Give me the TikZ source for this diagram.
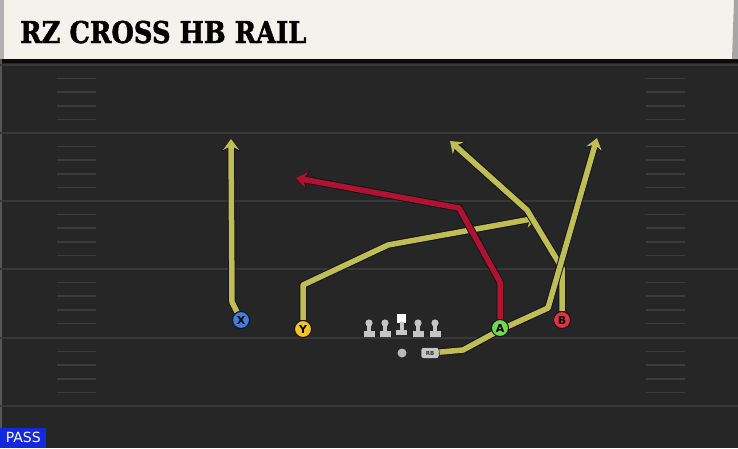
\documentclass[tikz,border=0pt]{standalone}
\usepackage{fontspec}
\setsansfont{DejaVu Sans}
\newfontfamily\slabfont[BoldFeatures={FakeBold=1.6}]{DejaVu Serif}
\usetikzlibrary{arrows.meta}

\definecolor{turf}{HTML}{262626}
\definecolor{yard}{HTML}{383838}
\definecolor{hash}{HTML}{3C3C3C}
\definecolor{paper}{HTML}{F4F2EC}
\definecolor{edge}{HTML}{141420}
\definecolor{olive}{HTML}{C0BD52}
\definecolor{crimson}{HTML}{B0122F}
\definecolor{xblue}{HTML}{3D7FD8}
\definecolor{yyellow}{HTML}{F2C524}
\definecolor{agreen}{HTML}{72D84C}
\definecolor{bred}{HTML}{E2343E}
\definecolor{passblue}{HTML}{1428E0}
\definecolor{lineman}{HTML}{C6C6C6}

\pgfdeclarelayer{field}
\pgfdeclarelayer{routes}
\pgfsetlayers{field,routes,main}

\begin{document}
\begin{tikzpicture}[x=1pt,y=-1pt,
  player/.style={circle, draw=edge, line width=1pt, minimum size=17pt, inner sep=0pt,
    text=black, font=\sffamily\bfseries\fontsize{11}{11}\selectfont},
  route/.style={line width=5.5pt, line join=round, -{Stealth[length=11pt,width=16pt,inset=4pt]},
    preaction={draw=edge, line width=7.5pt, -{Stealth[length=12.5pt,width=18.5pt,inset=4.5pt]}}},
  yardline/.style={draw=yard, line width=2.5pt},
  hashmark/.style={draw=hash, line width=1.6pt}]
\useasboundingbox (0,0) rectangle (738,448);

\begin{pgfonlayer}{field}
\fill[turf] (0,0) rectangle (738,448);
\fill[black!70!turf] (0,59) rectangle (738,63);
\fill[white!22!turf] (0,59) rectangle (2,448);
\foreach \y in {65,133,201,269,338,406}
  \draw[yardline] (0,\y) -- (738,\y);
\foreach \y in {65,133,201,269,338}
  \foreach \k in {1,...,4} {
    \draw[hashmark] (57,\y+\k*13.6) -- (96,\y+\k*13.6);
    \draw[hashmark] (646,\y+\k*13.6) -- (685,\y+\k*13.6);
  }
\fill[paper] (0,0) rectangle (734,59);
\fill[gray!70] (734,0) -- (738,0) -- (738,59) -- (732,59) -- cycle;
\fill[gray!60] (0,0) rectangle (4,59);
\end{pgfonlayer}

\node[anchor=base west, inner sep=0pt] (title) at (20,43)
  {\scalebox{0.86}[1]{\slabfont\bfseries\fontsize{30}{30}\selectfont RZ CROSS HB RAIL}};

\node[player, fill=xblue] (x) at (241,320) {X};
\node[player, fill=yyellow] (y) at (303,329) {Y};
\node[player, fill=agreen] (a) at (500,328) {A};
\node[player, fill=bred] (b) at (562,320) {B};

\foreach \p in {369,385,418,435} {
  \fill[lineman] (\p,323) circle (3.6pt);
  \fill[lineman] (\p-2,323) rectangle (\p+2,333);
  \fill[lineman] (\p-5.5,331) rectangle (\p+5.5,336.5);
}
\fill[white] (397,314) rectangle (406,322.5);
\fill[lineman] (399.5,322) rectangle (403.5,331);
\fill[lineman] (396,329.5) rectangle (407,334.5);

\node[circle, fill=gray!55, inner sep=0pt, minimum size=9pt] (qb) at (402,353) {};
\node[rounded corners=2.5pt, fill=lineman, draw=edge, line width=0.5pt, inner sep=0pt,
  minimum width=18pt, minimum height=11pt, text=black!80,
  font=\sffamily\bfseries\fontsize{5.5}{5.5}\selectfont] (rb) at (430,353) {RB};

\coordinate (xend) at (231,139);
\coordinate (yend) at (537,218);
\coordinate (aend) at (296,178);
\coordinate (bend) at (450,141);
\coordinate (rbend) at (597,138);

\begin{pgfonlayer}{routes}
\draw[route, draw=olive] (x) -- (232,302) -- (xend);
\draw[route, draw=olive] (y) -- (303,285) -- (388,245) -- (yend);
\draw[route, draw=olive] (b) -- (562,268) -- (527,210) -- (bend);
\draw[route, draw=olive] (rb) -- (463,350) -- (500,330) -- (548,308) -- (rbend);
\draw[route, draw=crimson] (a) -- (500,282) -- (459,208) -- (aend);
\end{pgfonlayer}

\node[fill=passblue, text=white, anchor=south west, inner sep=0pt, minimum width=46pt,
  minimum height=20pt, font=\sffamily\fontsize{14}{14}\selectfont] (pass) at (0,448) {PASS};
\end{tikzpicture}
\end{document}
